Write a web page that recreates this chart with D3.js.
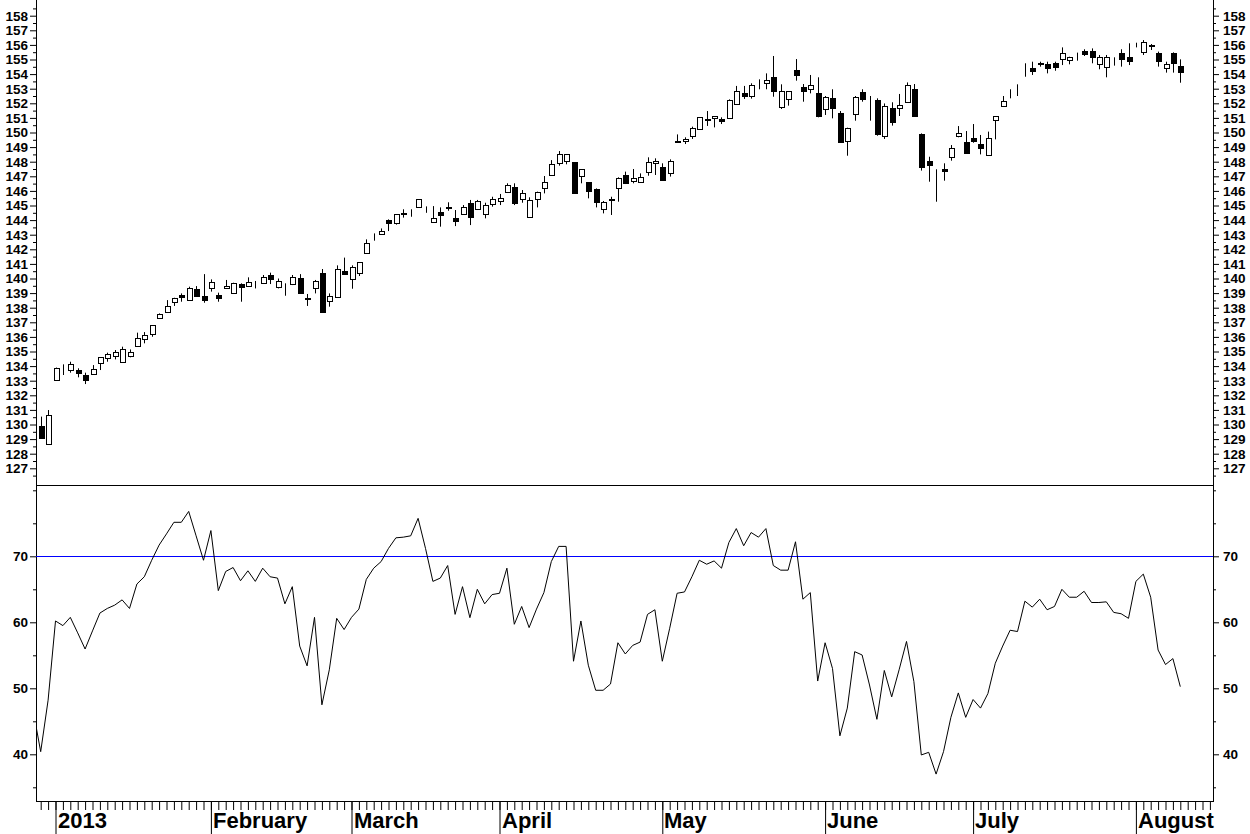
<!DOCTYPE html>
<html>
<head>
<meta charset="utf-8">
<script src="https://cdn.jsdelivr.net/npm/d3@7"></script>
<style>
  html, body { margin: 0; padding: 0; background: #fff; }
  svg { display: block; }
  text { font-family: "Liberation Sans", Arial, sans-serif; font-weight: bold; fill: #000; }
</style>
</head>
<body>
<script>
// daily bars, index 0 = 2012-12-28
var opens = [129.90,128.66,133.05,133.72,133.73,133.73,133.39,133.43,134.23,134.53,134.71,134.30,134.69,135.40,135.83,136.17,137.27,137.68,138.41,138.87,
  138.52,139.25,138.80,139.32,138.87,139.32,138.98,139.62,139.48,139.60,139.67,140.26,139.44,139.53,139.62,140.01,138.64,139.32,140.35,138.46,
  138.75,140.49,139.94,140.40,141.72,142.92,143.02,143.98,143.82,144.51,144.54,144.87,144.92,143.89,144.53,144.86,144.12,144.39,145.15,144.74,
  144.39,145.08,145.33,145.95,146.24,145.42,144.23,145.42,146.17,147.09,147.89,148.05,147.96,147.04,146.59,146.11,144.74,145.40,146.17,147.09,
  146.70,146.59,147.27,147.93,147.61,147.20,149.42,149.42,149.78,150.22,150.88,150.97,150.93,150.97,151.93,152.71,152.50,153.09,153.37,153.78,
  151.77,152.27,154.28,153.09,152.96,152.68,151.59,152.34,151.31,149.42,151.27,152.80,151.18,152.23,149.78,151.65,151.70,152.07,152.98,149.90,
  148.05,146.40,147.50,148.34,149.78,149.33,149.60,149.19,148.46,150.86,151.81,152.83,152.86,154.46,154.44,154.74,154.67,154.74,155.01,154.96,
  155.19,155.60,155.60,154.67,154.51,154.96,155.42,155.15,155.99,155.54,155.96,155.42,154.39,155.42,154.55];
var highs = [130.54,130.99,133.90,134.12,134.30,133.85,133.55,134.07,134.60,134.92,135.10,135.33,135.14,136.29,136.33,136.81,137.61,138.52,138.68,138.98,
  139.44,139.48,140.30,139.94,139.03,139.90,139.71,139.67,140.08,139.83,140.24,140.40,140.00,139.67,140.24,140.30,138.94,139.90,140.65,138.98,
  140.90,141.43,140.90,141.10,142.68,143.09,143.43,144.05,144.39,144.74,144.74,145.42,144.94,144.96,144.87,145.22,144.69,145.03,145.38,145.38,
  145.19,145.60,145.79,146.52,146.52,146.06,145.56,145.95,147.02,148.11,148.73,148.50,147.96,147.48,146.59,146.17,145.31,145.60,146.93,147.32,
  147.50,147.20,148.30,148.23,147.89,148.16,149.87,149.67,150.40,151.04,151.47,151.11,151.04,152.27,153.19,153.19,153.37,153.64,154.05,155.24,
  153.30,152.84,155.03,153.32,153.94,153.78,152.50,152.96,151.47,150.33,152.50,152.96,152.50,152.34,151.99,152.07,152.64,153.43,153.32,149.94,
  148.34,147.48,147.89,149.14,150.44,150.10,150.58,149.83,150.06,151.13,152.50,152.96,153.30,154.74,154.85,154.85,154.85,154.85,155.83,155.19,
  155.47,155.70,155.76,155.31,155.31,155.15,155.70,156.11,156.15,156.33,156.06,155.54,154.85,155.49,155.01];
var lows = [129.03,128.62,133.00,133.39,133.55,133.23,132.77,133.39,133.73,134.30,134.46,134.30,134.60,135.33,135.56,136.01,137.27,137.68,138.12,138.41,
  138.52,138.75,138.34,139.10,138.41,139.32,138.94,138.41,139.48,139.32,139.67,139.62,139.32,138.82,139.55,138.94,138.12,138.98,137.68,138.07,
  138.71,140.24,139.30,140.17,141.72,142.59,143.02,143.25,143.69,144.17,144.23,144.87,144.50,143.82,143.55,144.64,143.59,144.35,143.66,144.69,
  144.12,144.92,145.03,145.88,145.03,145.19,144.19,144.87,145.83,147.09,147.73,147.82,145.83,146.52,145.49,144.87,144.46,144.35,145.26,146.47,
  146.52,146.59,147.04,147.09,146.70,146.98,149.33,149.21,149.56,150.22,150.45,150.35,150.58,150.93,151.93,152.30,152.32,152.96,152.96,152.45,
  151.61,151.84,153.55,152.11,152.68,151.04,151.20,150.97,149.37,148.41,150.81,152.11,150.81,149.78,149.56,150.47,151.13,152.07,151.15,147.39,
  146.63,145.26,146.70,148.07,149.67,148.57,149.30,148.50,148.46,149.53,151.81,152.34,152.50,153.82,153.94,154.51,154.05,154.23,154.62,154.67,
  154.92,155.24,154.74,154.33,153.78,154.58,154.51,154.62,155.83,155.31,155.65,154.51,154.10,154.10,153.41];
var closes = [129.10,130.63,133.89,133.74,134.12,133.55,133.05,133.78,134.60,134.80,134.98,135.17,134.98,135.90,136.13,136.81,137.54,138.12,138.64,138.71,
  139.32,138.82,138.52,139.78,138.64,139.48,139.67,139.39,139.78,139.64,140.08,139.94,139.85,139.55,140.08,138.98,138.57,139.85,137.73,138.82,
  140.63,140.33,140.76,141.10,142.41,142.94,143.23,143.82,144.39,144.39,144.56,145.42,144.93,144.17,144.37,144.88,143.96,144.92,144.23,145.33,
  145.03,145.42,145.49,146.40,145.19,145.83,145.38,145.95,146.59,147.82,148.50,148.50,145.88,147.48,146.01,145.26,145.22,145.42,146.86,146.52,
  146.86,146.93,147.96,148.07,146.75,148.05,149.33,149.56,150.33,151.04,150.90,151.11,150.81,152.23,152.84,152.52,153.25,153.10,153.60,152.86,
  152.84,152.84,153.94,152.86,153.25,151.13,152.41,151.70,149.37,150.33,152.41,152.30,151.20,149.90,151.81,150.74,151.88,153.25,151.15,147.66,
  147.77,146.42,147.39,148.91,149.94,148.62,149.44,148.96,149.60,151.13,152.16,152.85,152.87,154.47,154.23,154.70,154.39,154.51,155.42,155.19,
  155.20,155.35,155.19,155.19,155.19,154.98,155.01,154.92,156.00,156.22,155.93,154.92,154.67,154.78,154.17];

// oscillator, first value belongs to the session before the first bar (index -1)
var rsiFirstIndex = -1;
var rsi = [46.5,
  40.4,48.2,60.2,59.5,60.75,58.4,55.95,58.7,61.4,62.1,62.6,63.4,62.1,65.8,66.9,69.4,71.7,73.4,75.15,75.15,
  76.8,73.1,69.4,73.9,64.8,67.7,68.3,66.3,67.8,66.2,68.2,66.9,66.7,62.8,65.4,56.4,53.4,60.75,47.5,52.8,
  60.6,58.9,60.75,62.0,66.5,68.2,69.2,71.2,72.8,72.9,73.1,75.75,71.2,66.2,66.7,68.6,61.2,65.4,60.7,65.0,
  62.8,64.2,64.4,68.2,59.7,62.4,59.2,62.0,64.5,69.2,71.5,71.5,54.1,60.2,53.5,49.7,49.7,50.65,56.9,55.2,
  56.5,57.0,61.2,61.9,54.1,59.1,64.4,64.6,66.9,69.4,68.8,69.3,68.2,72.1,74.2,71.6,73.6,72.9,74.2,68.6,
  67.9,67.9,72.2,63.5,64.5,51.1,56.9,53.0,42.8,47.0,55.55,55.05,50.5,45.3,52.7,48.7,52.8,57.1,51.0,39.9,
  40.3,37.0,40.4,45.6,49.3,45.6,48.3,47.0,49.2,53.8,56.4,58.8,58.6,63.2,62.3,63.5,61.9,62.4,65.0,63.8,
  63.8,64.7,63.0,63.0,63.1,61.5,61.3,60.6,66.2,67.3,63.8,55.8,53.6,54.5,50.25];
var rsiLevel = 70;

var priceTicks = d3.range(127, 159);
var rsiTicks = [40, 50, 60, 70];
var monthNames = ["2013", "February", "March", "April", "May", "June", "July", "August"];
var holidays = ["2013-01-01", "2013-01-21", "2013-02-18", "2013-03-29", "2013-05-27", "2013-07-04"];

// trading sessions from the first bar to the end of the axis
function tradingDays(start, end) {
  var out = [];
  var d = new Date(start + "T00:00:00Z");
  var e = new Date(end + "T00:00:00Z");
  while (d <= e) {
    var wd = d.getUTCDay();
    var s = d.toISOString().slice(0, 10);
    if (wd != 0 && wd != 6 && holidays.indexOf(s) < 0) out.push(new Date(d));
    d.setUTCDate(d.getUTCDate() + 1);
  }
  return out;
}
var days = tradingDays("2012-12-28", "2013-08-15");

var width = 1250, height = 834;
var left = 36, right = 1213, sep = 485, bottom = 801;

var svg = d3.select("body").append("svg")
  .attr("width", width)
  .attr("height", height);

var x = d3.scaleLinear().domain([0, 154]).range([40.7, 1180.3]);
var yP = d3.scaleLinear().domain([127, 158]).range([468.3, 15.7]);
var yR = d3.scaleLinear().domain([40, 70]).range([754.3, 556.3]);

svg.append("clipPath").attr("id", "clipTop")
  .append("rect").attr("x", left).attr("y", 0).attr("width", right - left).attr("height", sep);
svg.append("clipPath").attr("id", "clipBot")
  .append("rect").attr("x", left).attr("y", sep).attr("width", right - left).attr("height", bottom - sep);

/* price axes */
function styleAxis(g, size) {
  g.select(".domain").remove();
  g.selectAll("line").attr("stroke", "#000");
  g.selectAll("text").attr("font-family", null).style("font-size", size + "px");
  g.attr("font-family", null).attr("font-size", null);
}

var minorP = d3.range(125.5, 159.1, 0.5).filter(function (v) { return v % 1 != 0; });

svg.append("g").attr("transform", "translate(" + left + ",0)")
  .call(d3.axisLeft(yP).tickValues(priceTicks).tickSize(6).tickPadding(2).tickFormat(d3.format("d")))
  .call(styleAxis, 13.5);
svg.append("g").attr("transform", "translate(" + left + ",0)")
  .call(d3.axisLeft(yP).tickValues(minorP.filter(function (v) { return yP(v) > 0 && yP(v) < sep; })).tickSize(3).tickFormat(""))
  .call(styleAxis, 13.5);
svg.append("g").attr("transform", "translate(" + right + ",0)")
  .call(d3.axisRight(yP).tickValues(priceTicks).tickSize(6).tickPadding(4).tickFormat(d3.format("d")))
  .call(styleAxis, 13.5);
svg.append("g").attr("transform", "translate(" + right + ",0)")
  .call(d3.axisRight(yP).tickValues(minorP.filter(function (v) { return yP(v) > 0 && yP(v) < sep; })).tickSize(3).tickFormat(""))
  .call(styleAxis, 13.5);

/* oscillator axes */
var minorR = [35, 45, 55, 65, 75, 80];
svg.append("g").attr("transform", "translate(" + left + ",0)")
  .call(d3.axisLeft(yR).tickValues(rsiTicks).tickSize(6).tickPadding(2))
  .call(styleAxis, 13.5);
svg.append("g").attr("transform", "translate(" + left + ",0)")
  .call(d3.axisLeft(yR).tickValues(minorR).tickSize(3).tickFormat(""))
  .call(styleAxis, 13.5);
svg.append("g").attr("transform", "translate(" + right + ",0)")
  .call(d3.axisRight(yR).tickValues(rsiTicks).tickSize(6).tickPadding(4))
  .call(styleAxis, 13.5);
svg.append("g").attr("transform", "translate(" + right + ",0)")
  .call(d3.axisRight(yR).tickValues(minorR).tickSize(3).tickFormat(""))
  .call(styleAxis, 13.5);

/* time axis */
var dayIdx = d3.range(days.length);
var monthIdx = dayIdx.filter(function (i) { return i > 0 && days[i].getUTCMonth() != days[i - 1].getUTCMonth(); });

svg.append("g").attr("transform", "translate(0," + bottom + ")")
  .call(d3.axisBottom(x).tickValues(dayIdx).tickSize(9).tickFormat(""))
  .call(styleAxis, 13);
svg.append("g").attr("transform", "translate(0," + bottom + ")")
  .call(d3.axisBottom(x).tickValues(monthIdx).tickSize(33).tickFormat(""))
  .call(styleAxis, 13);

svg.append("g").selectAll("text")
  .data(monthIdx)
  .enter().append("text")
  .attr("x", function (i) { return Math.round(x(i)) + 2; })
  .attr("y", 828)
  .style("font-size", "22px")
  .text(function (i, k) { return monthNames[k]; });

/* frame */
var frame = svg.append("g").attr("stroke", "#000").attr("stroke-width", 1);
frame.append("line").attr("x1", left + 0.5).attr("x2", left + 0.5).attr("y1", 0).attr("y2", bottom);
frame.append("line").attr("x1", right + 0.5).attr("x2", right + 0.5).attr("y1", 0).attr("y2", bottom);
frame.append("line").attr("x1", left).attr("x2", right + 1).attr("y1", sep + 0.5).attr("y2", sep + 0.5);
frame.append("line").attr("x1", left).attr("x2", right + 1).attr("y1", bottom + 0.5).attr("y2", bottom + 0.5);

/* candles */
var bars = d3.range(closes.length);
var candles = svg.append("g").attr("clip-path", "url(#clipTop)");

candles.selectAll("line.wick")
  .data(bars)
  .enter().append("line")
  .attr("class", "wick")
  .attr("x1", function (i) { return Math.round(x(i)) + 0.5; })
  .attr("x2", function (i) { return Math.round(x(i)) + 0.5; })
  .attr("y1", function (i) { return yP(highs[i]); })
  .attr("y2", function (i) { return yP(lows[i]); })
  .attr("stroke", "#000")
  .attr("stroke-width", 1);

candles.selectAll("rect.body")
  .data(bars)
  .enter().append("rect")
  .attr("class", "body")
  .attr("x", function (i) { return Math.round(x(i)) - 2 + 0.5; })
  .attr("width", 5)
  .attr("y", function (i) { return Math.round(yP(Math.max(opens[i], closes[i]))) + 0.5; })
  .attr("height", function (i) {
    return Math.max(0, Math.round(yP(Math.min(opens[i], closes[i]))) - Math.round(yP(Math.max(opens[i], closes[i]))));
  })
  .attr("fill", function (i) { return closes[i] < opens[i] ? "#000" : "#fff"; })
  .attr("stroke", "#000")
  .attr("stroke-width", 1);

/* oscillator */
var osc = svg.append("g").attr("clip-path", "url(#clipBot)");

osc.append("line")
  .attr("x1", left).attr("x2", right)
  .attr("y1", Math.round(yR(rsiLevel)) + 0.5).attr("y2", Math.round(yR(rsiLevel)) + 0.5)
  .attr("stroke", "#0000ff")
  .attr("stroke-width", 1.2);

var line = d3.line()
  .x(function (d, k) { return x(k + rsiFirstIndex); })
  .y(function (d) { return yR(d); });

osc.append("path")
  .datum(rsi)
  .attr("d", line)
  .attr("fill", "none")
  .attr("stroke", "#000")
  .attr("stroke-width", 1);
</script>
</body>
</html>
